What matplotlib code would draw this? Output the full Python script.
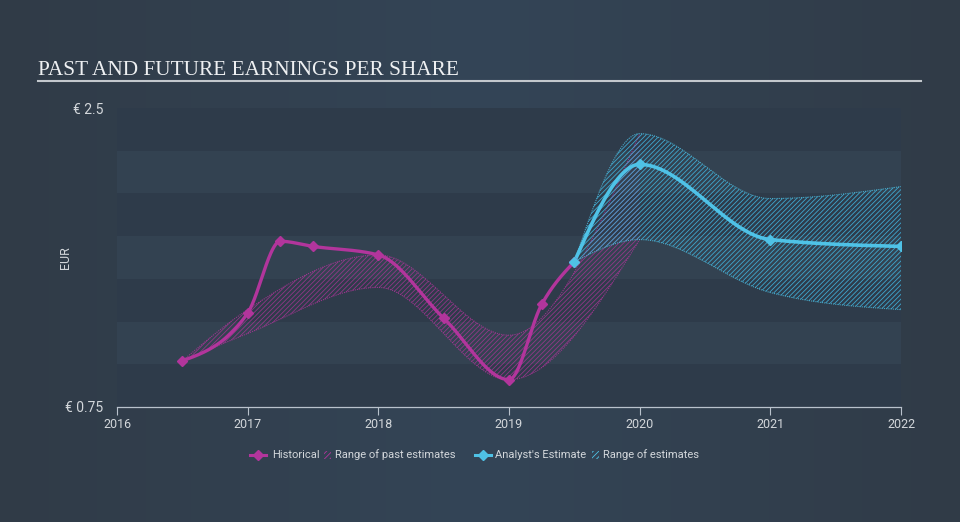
import numpy as np
import matplotlib
matplotlib.use("Agg")
import matplotlib.pyplot as plt
from matplotlib.lines import Line2D
from matplotlib.patches import Rectangle

# data
hist_x = [2016.5, 2017.0, 2017.25, 2017.5, 2018.0, 2018.5, 2019.0, 2019.25, 2019.5]
hist_y = [1.02, 1.30, 1.72, 1.69, 1.64, 1.27, 0.91, 1.35, 1.60]

past_x = [2016.5, 2017.0, 2018.0, 2019.0, 2020.0]
past_hi = [1.02, 1.32, 1.64, 1.17, 2.35]
past_lo = [1.02, 1.18, 1.45, 0.91, 1.73]

est_x = [2019.5, 2020.0, 2021.0, 2022.0]
est_y = [1.60, 2.17, 1.73, 1.69]
est_hi = [1.60, 2.35, 1.97, 2.04]
est_lo = [1.60, 1.73, 1.42, 1.32]

years = [2016, 2017, 2018, 2019, 2020, 2021, 2022]
y_min, y_max = 0.75, 2.5

PINK = "#b2359c"
BLUE = "#4fc2e6"
TXT = "#d3d7db"


def monotone(x, y, n=80):
    # monotone cubic (like d3 curveMonotoneX), only for drawing smooth paths
    x = np.asarray(x, float)
    y = np.asarray(y, float)
    h = np.diff(x)
    d = np.diff(y) / h
    m = np.zeros_like(y)
    for k in range(1, len(x) - 1):
        if d[k - 1] * d[k] <= 0:
            m[k] = 0
        else:
            p = (d[k - 1] * h[k] + d[k] * h[k - 1]) / (h[k - 1] + h[k])
            m[k] = (np.sign(d[k - 1]) + np.sign(d[k])) * min(abs(d[k - 1]), abs(d[k]), 0.5 * abs(p))
    if len(x) > 2:
        m[0] = (3 * d[0] - m[1]) / 2
        m[-1] = (3 * d[-1] - m[-2]) / 2
    else:
        m[0] = m[-1] = d[0]
    xs, ys = [], []
    for k in range(len(h)):
        t = np.linspace(0, 1, n)
        h00 = 2 * t**3 - 3 * t**2 + 1
        h10 = t**3 - 2 * t**2 + t
        h01 = -2 * t**3 + 3 * t**2
        h11 = t**3 - t**2
        xs.append(x[k] + t * h[k])
        ys.append(h00 * y[k] + h10 * h[k] * m[k] + h01 * y[k + 1] + h11 * h[k] * m[k + 1])
    return np.concatenate(xs), np.concatenate(ys)


plt.rcParams['hatch.linewidth'] = 0.6
fig = plt.figure(figsize=(9.6, 5.22), dpi=100)

# background gradient
bg = fig.add_axes([0, 0, 1, 1])
grad = np.abs(np.linspace(-1, 1, 256))
c_mid = np.array([0x34, 0x45, 0x57]) / 255
c_edge = np.array([0x30, 0x3b, 0x47]) / 255
img = c_mid[None, :] * (1 - grad[:, None]) + c_edge[None, :] * grad[:, None]
bg.imshow(img[None, :, :], aspect='auto', extent=[0, 1, 0, 1])
bg.axis('off')

ax = fig.add_axes([117 / 960, 1 - 407 / 522, 784 / 960, 299 / 522])
ax.set_xlim(2016, 2022)
ax.set_ylim(y_min, y_max)
ax.patch.set_alpha(0)

# horizontal bands
edges = np.arange(y_min, y_max + 0.001, 0.25)
for i in range(len(edges) - 1):
    col = "#2e3b4a" if i % 2 == 0 else "#334251"
    ax.axhspan(edges[i], edges[i + 1], color=col, lw=0, zorder=0)

# range of past estimates
px, phi = monotone(past_x, past_hi)
_, plo = monotone(past_x, past_lo)
ax.fill_between(px, plo, phi, facecolor="none", edgecolor=PINK + "bb", hatch="///////", lw=0, zorder=1)
ax.plot(px, phi, color=PINK, lw=0.8, ls=(0, (1, 1)), alpha=0.8, zorder=1)
ax.plot(px, plo, color=PINK, lw=0.8, ls=(0, (1, 1)), alpha=0.8, zorder=1)

# range of estimates
ex, ehi = monotone(est_x, est_hi)
_, elo = monotone(est_x, est_lo)
ax.fill_between(ex, elo, ehi, facecolor="none", edgecolor="#3fa8cf", hatch="///////", lw=0, zorder=2)
ax.plot(ex, ehi, color=BLUE, lw=0.8, ls=(0, (1, 1)), alpha=0.8, zorder=2)
ax.plot(ex, elo, color=BLUE, lw=0.8, ls=(0, (1, 1)), alpha=0.8, zorder=2)

# lines
hx, hy = monotone(hist_x, hist_y)
ax.plot(hx, hy, color=PINK, lw=2.4, solid_capstyle='round', zorder=3)
ax.plot(hist_x, hist_y, ls='none', marker='D', ms=5.5, color=PINK, zorder=4)
fx, fy = monotone(est_x, est_y)
ax.plot(fx, fy, color=BLUE, lw=2.6, solid_capstyle='round', zorder=3)
ax.plot(est_x, est_y, ls='none', marker='D', ms=5.5, color=BLUE, zorder=4)

# axes styling
for s in ['top', 'right', 'left']:
    ax.spines[s].set_visible(False)
ax.spines['bottom'].set_color("#b9c2cc")
ax.spines['bottom'].set_linewidth(0.9)
ax.set_xticks(years)
ax.set_xticklabels([str(y) for y in years], family='Roboto', fontsize=9, color=TXT)
ax.tick_params(axis='x', length=6, width=0.8, color="#b9c2cc", pad=2)
ax.set_yticks([y_min, y_max])
ax.set_yticklabels(["€ 0.75", "€ 2.5"], family='Roboto', fontsize=10, color=TXT)
ax.tick_params(axis='y', length=0, pad=10)
fig.text(66 / 960, 1 - 258 / 522, "EUR", family='Roboto', fontsize=9, color=TXT,
         rotation=90, ha='center', va='center')

# title
fig.text(38 / 960, 1 - 75 / 522, "PAST AND FUTURE EARNINGS PER SHARE", family='Liberation Serif',
         fontsize=15.3, color="#eef0f2", ha='left', va='baseline')
fig.add_artist(Line2D([38 / 960, 921 / 960], [1 - 81 / 522] * 2, color="#c3c8cd", lw=1.5))

# legend
lg = fig.add_axes([0, 0, 1, 1])
lg.set_xlim(0, 960)
lg.set_ylim(522, 0)
lg.axis('off')
ly = 455
lg.plot([250, 266], [ly, ly], color=PINK, lw=2.2)
lg.plot([258], [ly], marker='D', ms=5.5, color=PINK)
lg.text(272, ly, "Historical", family='Roboto', fontsize=8, color=TXT, va='center')
lg.add_patch(Rectangle((324, ly - 4), 7, 8, facecolor='none', edgecolor=PINK, hatch='//////', lw=0))
lg.text(335, ly, "Range of past estimates", family='Roboto', fontsize=8, color=TXT, va='center')
lg.plot([475, 491], [ly, ly], color=BLUE, lw=2.2)
lg.plot([483], [ly], marker='D', ms=5.5, color=BLUE)
lg.text(495, ly, "Analyst's Estimate", family='Roboto', fontsize=8, color=TXT, va='center')
lg.add_patch(Rectangle((592, ly - 4), 7, 8, facecolor='none', edgecolor=BLUE, hatch='//////', lw=0))
lg.text(603, ly, "Range of estimates", family='Roboto', fontsize=8, color=TXT, va='center')

fig.savefig("out.png", dpi=100)
